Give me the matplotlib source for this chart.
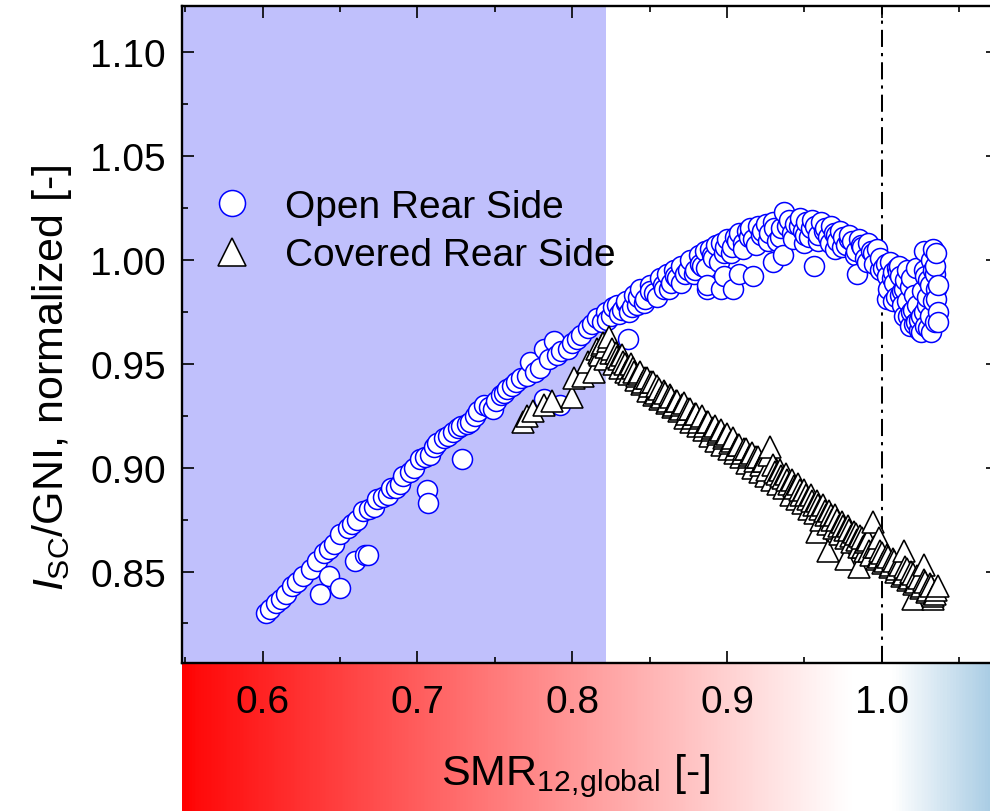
import numpy as np
import matplotlib
matplotlib.use("Agg")
import matplotlib.pyplot as plt
from matplotlib.colors import LinearSegmentedColormap
from matplotlib.ticker import MultipleLocator

plt.rcParams['font.family'] = ['Liberation Sans', 'DejaVu Sans']
plt.rcParams['mathtext.fontset'] = 'custom'
plt.rcParams['mathtext.rm'] = 'Liberation Sans'
plt.rcParams['mathtext.it'] = 'Liberation Sans:italic'
plt.rcParams['mathtext.bf'] = 'Liberation Sans:bold'

# --- measured data -------------------------------------------------------
open_smr = [
    0.602, 0.605, 0.609, 0.612, 0.615, 0.619, 0.622, 0.626, 0.631, 0.635,
    0.640, 0.643, 0.646, 0.650, 0.655, 0.658, 0.661, 0.665, 0.669, 0.672,
    0.674, 0.678, 0.681, 0.683, 0.686, 0.689, 0.691, 0.695, 0.698, 0.702,
    0.705, 0.708, 0.711, 0.713, 0.717, 0.720, 0.723, 0.726, 0.728, 0.732,
    0.734, 0.737, 0.739, 0.743, 0.746, 0.749, 0.751, 0.754, 0.756, 0.758,
    0.761, 0.764, 0.767, 0.771, 0.773, 0.776, 0.779, 0.782, 0.785, 0.788,
    0.790, 0.793, 0.797, 0.800, 0.803, 0.806, 0.810, 0.813, 0.816, 0.819,
    0.822, 0.825, 0.829, 0.832, 0.835, 0.837, 0.840, 0.842, 0.844, 0.847,
    0.850, 0.853, 0.857, 0.859, 0.861, 0.864, 0.866, 0.868, 0.870, 0.873,
    0.876, 0.879, 0.882, 0.884, 0.886, 0.889, 0.891, 0.893, 0.896, 0.898,
    0.900, 0.903, 0.905, 0.908, 0.910, 0.913, 0.915, 0.917, 0.920, 0.922,
    0.925, 0.927, 0.930, 0.932, 0.935, 0.937, 0.940, 0.942, 0.944, 0.947,
    0.949, 0.951, 0.953, 0.955, 0.957, 0.959, 0.961, 0.963, 0.965, 0.967,
    0.969, 0.971, 0.973, 0.975, 0.977, 0.979, 0.981, 0.983, 0.985, 0.987,
    0.989, 0.991, 0.993, 0.995, 0.997, 0.999, 1.001, 1.003, 1.005, 1.007,
    1.008, 1.010, 1.012, 1.013, 1.015, 1.016, 1.018, 1.019, 1.021, 1.022,
    1.023, 1.024, 1.025, 1.026, 1.027, 1.028, 1.029, 1.030, 1.031, 1.032,
    1.033, 1.033, 1.034, 1.034, 1.035, 1.035, 1.036, 1.036, 1.034, 1.032,
    0.637, 0.650, 0.643, 0.660, 0.666, 0.668, 0.706, 0.707, 0.729, 0.782,
    0.792, 0.836, 0.887, 0.887, 0.896, 0.898, 0.904, 0.908, 0.917, 0.936,
    0.956, 0.930, 1.022, 1.027, 1.011, 1.016, 1.003, 0.984, 0.970, 0.950,
    1.007, 1.014, 1.018, 1.025, 1.020, 1.012, 1.030, 1.036, 1.035, 1.028,
    0.8225, 0.8265, 0.8305, 0.8345, 0.8385, 0.8425, 0.8465, 0.8505, 0.8545, 0.8585,
    0.8625, 0.8665, 0.8705, 0.8745, 0.8785, 0.8825, 0.8865, 0.8905, 0.8945, 0.8985,
    0.9025, 0.9065, 0.9105, 0.9145, 0.9185, 0.9225, 0.9265, 0.9305, 0.9345, 0.9385,
    0.9425, 0.9465, 0.9505, 0.9545, 0.9585, 0.9625, 0.9665, 0.9705, 0.9745, 0.9785,
    0.9825, 0.9865, 0.9905, 0.9945, 0.9985, 1.0025, 1.0065, 1.0105, 1.0145, 1.0185,
    1.004, 1.009, 1.013, 1.017, 1.021, 1.024, 1.027, 1.029, 1.031, 1.033,
]
open_isc = [
    0.830, 0.832, 0.835, 0.837, 0.839, 0.843, 0.845, 0.848, 0.851, 0.855,
    0.859, 0.861, 0.863, 0.868, 0.871, 0.873, 0.875, 0.879, 0.880, 0.881,
    0.885, 0.886, 0.887, 0.890, 0.890, 0.892, 0.896, 0.898, 0.900, 0.904,
    0.905, 0.906, 0.910, 0.912, 0.914, 0.915, 0.917, 0.919, 0.920, 0.921,
    0.922, 0.925, 0.927, 0.930, 0.929, 0.928, 0.932, 0.935, 0.936, 0.938,
    0.939, 0.941, 0.943, 0.944, 0.951, 0.946, 0.948, 0.957, 0.952, 0.961,
    0.954, 0.956, 0.957, 0.960, 0.962, 0.964, 0.967, 0.969, 0.972, 0.970,
    0.975, 0.973, 0.978, 0.976, 0.980, 0.975, 0.983, 0.978, 0.986, 0.981,
    0.988, 0.984, 0.991, 0.986, 0.993, 0.989, 0.995, 0.991, 0.997, 0.993,
    1.000, 0.995, 1.002, 0.997, 1.004, 1.005, 1.001, 1.007, 1.008, 1.003,
    1.010, 1.006, 1.011, 1.013, 1.008, 1.014, 1.015, 1.010, 1.016, 1.012,
    1.017, 1.013, 1.018, 1.009, 1.015, 1.023, 1.019, 1.013, 1.017, 1.020,
    1.014, 1.018, 1.011, 1.019, 1.016, 1.012, 1.018, 1.015, 1.011, 1.016,
    1.013, 1.009, 1.014, 1.011, 1.007, 1.012, 1.009, 1.004, 1.010, 1.006,
    1.001, 1.008, 1.004, 0.998, 1.005, 1.001, 0.996, 0.992, 0.999, 0.994,
    0.989, 0.996, 0.992, 0.985, 0.990, 0.980, 0.987, 0.975, 0.983, 0.970,
    0.978, 0.966, 0.973, 0.985, 0.995, 0.968, 0.978, 0.990, 0.973, 1.000,
    0.980, 1.005, 0.970, 0.993, 0.986, 1.003, 0.975, 0.988, 0.997, 0.965,
    0.839, 0.842, 0.848, 0.855, 0.858, 0.858, 0.889, 0.883, 0.904, 0.933,
    0.930, 0.962, 0.986, 0.988, 0.986, 0.992, 0.986, 0.993, 0.992, 1.002,
    0.997, 0.999, 0.996, 1.004, 0.997, 0.995, 0.981, 0.993, 1.005, 1.008,
    0.980, 0.973, 0.968, 0.965, 0.976, 0.983, 0.967, 0.970, 0.981, 0.992,
    0.971, 0.977, 0.974, 0.979, 0.977, 0.982, 0.979, 0.985, 0.982, 0.988,
    0.986, 0.992, 0.989, 0.995, 0.993, 0.998, 0.996, 1.002, 0.999, 1.006,
    1.003, 1.009, 1.005, 1.011, 1.007, 1.014, 1.009, 1.015, 1.011, 1.016,
    1.010, 1.016, 1.012, 1.015, 1.009, 1.014, 1.008, 1.012, 1.006, 1.010,
    1.002, 1.007, 0.999, 1.003, 0.995, 0.998, 0.991, 0.994, 0.986, 0.991,
    0.986, 0.982, 0.978, 0.973, 0.969, 0.971, 0.975, 0.982, 0.988, 0.995,
]

covered_smr = [
    0.768, 0.771, 0.775, 0.782, 0.787, 0.800, 0.801, 0.807, 0.810, 0.814,
    0.816, 0.818, 0.820, 0.822, 0.824, 0.826, 0.828, 0.830, 0.832, 0.834,
    0.836, 0.838, 0.840, 0.842, 0.844, 0.846, 0.848, 0.850, 0.852, 0.854,
    0.856, 0.858, 0.860, 0.862, 0.864, 0.866, 0.868, 0.870, 0.872, 0.874,
    0.876, 0.878, 0.880, 0.882, 0.884, 0.886, 0.888, 0.890, 0.892, 0.894,
    0.896, 0.898, 0.900, 0.902, 0.904, 0.906, 0.908, 0.910, 0.912, 0.914,
    0.916, 0.918, 0.920, 0.922, 0.924, 0.926, 0.928, 0.930, 0.932, 0.934,
    0.936, 0.938, 0.940, 0.942, 0.944, 0.946, 0.948, 0.950, 0.952, 0.954,
    0.956, 0.958, 0.960, 0.962, 0.964, 0.966, 0.968, 0.970, 0.972, 0.974,
    0.976, 0.978, 0.980, 0.982, 0.984, 0.986, 0.988, 0.990, 0.992, 0.994,
    0.996, 0.998, 1.000, 1.002, 1.004, 1.006, 1.008, 1.010, 1.012, 1.014,
    1.016, 1.018, 1.020, 1.022, 1.024, 1.026, 1.028, 1.030, 1.032, 1.034,
    0.958, 0.965, 0.977, 0.985, 1.014, 1.027, 1.020, 1.033, 1.036, 0.998,
    0.817, 0.819, 0.821, 0.823, 0.825, 0.827, 0.829, 0.831, 0.833, 0.835,
    0.837, 0.839, 0.841, 0.843, 0.845, 0.847, 0.849, 0.851, 0.853, 0.855,
    0.857, 0.859, 0.861, 0.863, 0.865, 0.867, 0.869, 0.871, 0.873, 0.875,
    0.877, 0.879, 0.881, 0.883, 0.885, 0.887, 0.889, 0.891, 0.893, 0.895,
    0.897, 0.899, 0.901, 0.903, 0.905, 0.907, 0.909, 0.911, 0.913, 0.915,
    0.917, 0.919, 0.921, 0.923, 0.925, 0.927, 0.929, 0.931, 0.933, 0.935,
    0.937, 0.939, 0.941, 0.943, 0.945, 0.947, 0.949, 0.951, 0.953, 0.955,
    0.957, 0.959, 0.961, 0.963, 0.965, 0.967, 0.969, 0.971, 0.973, 0.975,
    0.977, 0.979, 0.981, 0.983, 0.985, 0.987, 0.989, 0.991, 0.993, 0.995,
    0.997, 0.999, 1.001, 1.003, 1.005, 1.007, 1.009, 1.011, 1.013, 1.015,
    1.017, 1.019, 1.021, 1.023, 1.025, 1.027, 1.029, 1.031, 1.033, 1.035,
]
covered_isc = [
    0.922, 0.925, 0.927, 0.930, 0.932, 0.934, 0.943, 0.944, 0.951, 0.946,
    0.957, 0.954, 0.960, 0.958, 0.963, 0.957, 0.955, 0.952, 0.954, 0.950,
    0.948, 0.950, 0.946, 0.944, 0.946, 0.941, 0.943, 0.939, 0.941, 0.936,
    0.938, 0.934, 0.936, 0.932, 0.934, 0.930, 0.932, 0.928, 0.931, 0.926,
    0.928, 0.924, 0.926, 0.922, 0.925, 0.920, 0.922, 0.918, 0.920, 0.916,
    0.918, 0.914, 0.916, 0.912, 0.914, 0.909, 0.911, 0.907, 0.909, 0.905,
    0.907, 0.903, 0.905, 0.901, 0.903, 0.899, 0.910, 0.901, 0.897, 0.899,
    0.895, 0.897, 0.892, 0.894, 0.890, 0.892, 0.887, 0.889, 0.885, 0.887,
    0.882, 0.884, 0.880, 0.882, 0.877, 0.879, 0.875, 0.877, 0.872, 0.874,
    0.870, 0.872, 0.867, 0.869, 0.865, 0.867, 0.862, 0.864, 0.860, 0.874,
    0.862, 0.857, 0.859, 0.855, 0.857, 0.853, 0.855, 0.851, 0.853, 0.849,
    0.851, 0.847, 0.849, 0.845, 0.847, 0.843, 0.845, 0.841, 0.843, 0.839,
    0.869, 0.860, 0.856, 0.852, 0.860, 0.853, 0.837, 0.837, 0.843, 0.866,
    0.955, 0.959, 0.952, 0.961, 0.955, 0.950, 0.953, 0.948, 0.951, 0.946,
    0.945, 0.948, 0.942, 0.945, 0.940, 0.943, 0.937, 0.941, 0.935, 0.939,
    0.933, 0.937, 0.931, 0.935, 0.929, 0.932, 0.927, 0.930, 0.924, 0.928,
    0.922, 0.926, 0.920, 0.924, 0.918, 0.922, 0.915, 0.919, 0.913, 0.917,
    0.911, 0.915, 0.909, 0.913, 0.907, 0.911, 0.905, 0.909, 0.902, 0.906,
    0.900, 0.905, 0.898, 0.903, 0.896, 0.906, 0.894, 0.898, 0.892, 0.896,
    0.890, 0.894, 0.887, 0.891, 0.885, 0.889, 0.883, 0.887, 0.880, 0.884,
    0.878, 0.882, 0.875, 0.879, 0.873, 0.877, 0.871, 0.875, 0.868, 0.872,
    0.866, 0.870, 0.864, 0.868, 0.862, 0.866, 0.860, 0.865, 0.858, 0.862,
    0.856, 0.860, 0.854, 0.858, 0.852, 0.856, 0.850, 0.854, 0.848, 0.852,
    0.846, 0.850, 0.844, 0.848, 0.842, 0.846, 0.840, 0.844, 0.838, 0.841,
]

series_labels = ['Open Rear Side', 'Covered Rear Side']
x_major = [0.6, 0.7, 0.8, 0.9, 1.0]
x_tick_labels = ['0.6', '0.7', '0.8', '0.9', '1.0']
y_major = [0.85, 0.90, 0.95, 1.00, 1.05, 1.10]
y_tick_labels = ['0.85', '0.90', '0.95', '1.00', '1.05', '1.10']
shade_limit = 0.822      # upper SMR bound of the highlighted band
reference_smr = 1.0      # reference spectrum
x_range = (0.548, 1.075)
y_range = (0.806, 1.122)

# --- figure layout (pixel geometry of a 990 x 812 canvas) ---------------
W, H = 990, 812
left_px, right_px, top_px, bottom_px = 182, 998, 7, 664

fig = plt.figure(figsize=(W / 100, H / 100), dpi=100)

# colour strip below the plot: red (blue-poor) -> white -> blue (blue-rich)
ax_bar = fig.add_axes([left_px / W, 0, (right_px - left_px) / W, (H - bottom_px) / H])
span = x_range[1] - x_range[0]
def frac(v):
    return (v - x_range[0]) / span
cmap = LinearSegmentedColormap.from_list(
    'smr', [(0.0, '#ff0000'), (frac(0.556), '#ff0a0a'), (frac(0.980), '#ffffff'),
            (frac(1.008), '#ffffff'), (1.0, '#a5cae3')])
grad = np.linspace(x_range[0], x_range[1], 800)[np.newaxis, :]
ax_bar.imshow(grad, extent=[x_range[0], x_range[1], 0, 1], aspect='auto',
              cmap=cmap, vmin=x_range[0], vmax=x_range[1], interpolation='bilinear')
ax_bar.set_xlim(*x_range)
ax_bar.set_ylim(0, 1)
ax_bar.axis('off')

ax = fig.add_axes([left_px / W, (H - bottom_px) / H,
                   (right_px - left_px) / W, (bottom_px - top_px) / H])

ax.axvspan(x_range[0], shade_limit, color='#c0c0fc', lw=0, zorder=0)
ax.axvline(reference_smr, color='black', lw=1.45,
           ls=(0, (8.5, 3.0, 1.6, 3.0)), zorder=1)

# plot each series in order of increasing SMR so the outlines stack evenly
o_order = np.argsort(open_smr, kind='stable')
c_order = np.argsort(covered_smr, kind='stable')
ax.plot(np.asarray(open_smr)[o_order], np.asarray(open_isc)[o_order],
        ls='none', marker='o', ms=14.4, mfc='white', mec='#0000ff', mew=1.1,
        label=series_labels[0], zorder=2)
ax.plot(np.asarray(covered_smr)[c_order], np.asarray(covered_isc)[c_order],
        ls='none', marker='^', ms=15.6, mfc='white', mec='black', mew=1.15,
        label=series_labels[1], zorder=3)

ax.set_xlim(*x_range)
ax.set_ylim(*y_range)
ax.set_xticks(x_major)
ax.set_xticklabels(x_tick_labels)
ax.set_yticks(y_major)
ax.set_yticklabels(y_tick_labels)
ax.xaxis.set_minor_locator(MultipleLocator(0.05))
ax.yaxis.set_minor_locator(MultipleLocator(0.025))
ax.tick_params(which='both', direction='in', top=True, right=True,
               width=1.2, labelsize=28, colors='black')
ax.tick_params(which='major', length=8.6)
ax.tick_params(which='minor', length=4.6)
ax.tick_params(axis='x', pad=15)
ax.tick_params(axis='y', pad=11.5)
for sp in ax.spines.values():
    sp.set_linewidth(1.7)

ax.set_xlabel(r'SMR$_{\mathrm{12,\!global}}$ [-]', fontsize=31)
ax.xaxis.label.set_va('baseline')
ax.xaxis.set_label_coords((576 - left_px) / (right_px - left_px),
                          -(785 - bottom_px) / (bottom_px - top_px))
ax.set_ylabel(r'$I_{\mathrm{SC}}$/GNI, normalized [-]', fontsize=31)
ax.yaxis.label.set_va('baseline')
ax.yaxis.set_label_coords(-(left_px - 63) / (right_px - left_px),
                          (bottom_px - 378) / (bottom_px - top_px))

ax.legend(loc='upper left', bbox_to_anchor=((212.5 - left_px) / (right_px - left_px),
                                            (bottom_px - 189.7) / (bottom_px - top_px)),
          frameon=False, fontsize=28, markerscale=1.3, handlelength=1.0,
          handletextpad=0.86, labelspacing=0.32, borderpad=0, borderaxespad=0)

fig.savefig('out.png', dpi=100)
